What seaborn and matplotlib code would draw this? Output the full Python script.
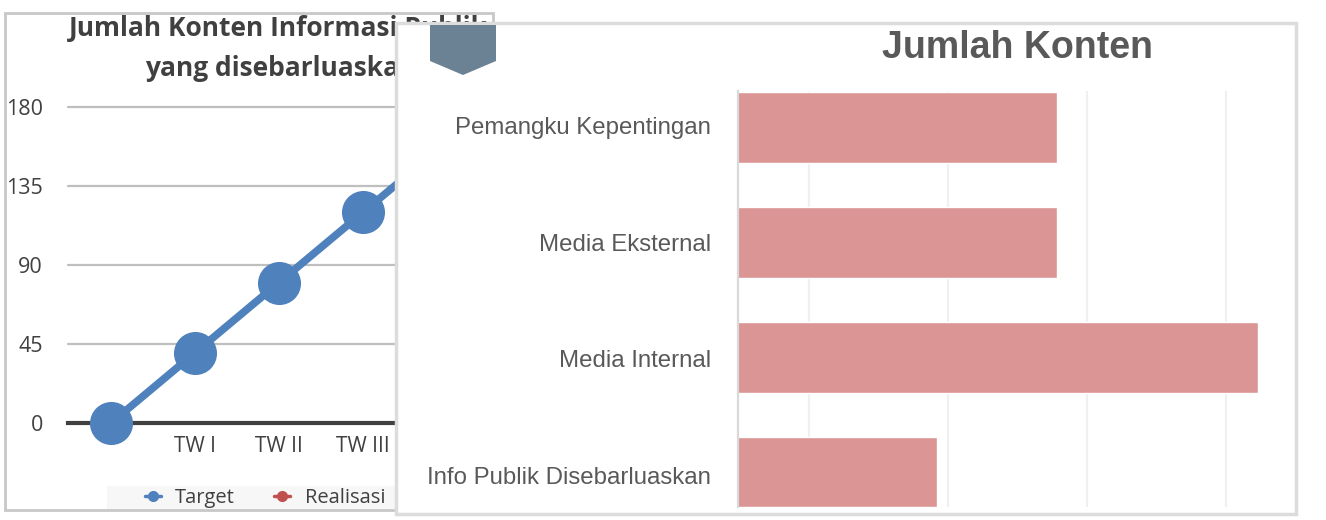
import pandas as pd
import matplotlib
matplotlib.use("Agg")
import matplotlib.pyplot as plt
from matplotlib.lines import Line2D
from matplotlib.patches import Polygon, Rectangle
import seaborn as sns

W, H = 1326, 520

# left chart
periods = ["", "TW I", "TW II", "TW III", "TW IV"]
target = [0, 40, 80, 120, 160]
y_ticks = [0, 45, 90, 135, 180]

# right chart
channels = ["Pemangku Kepentingan", "Media Eksternal", "Media Internal", "Info Publik Disebarluaskan"]
konten = [139.4, 139.4, 211.4, 96]
x_ticks = [50, 100, 150, 200]

BLUE = "#4f81bd"
RED = "#c0504d"
BAR = "#da9594"
GREY = "#595959"
DARK = "#404040"


def px_axes(fig, x0, y0, x1, y1, zorder):
    rect = [x0 / W, 1 - y1 / H, (x1 - x0) / W, (y1 - y0) / H]
    ax = fig.add_axes(rect, zorder=zorder)
    return ax


sns.set_theme(style="white")
fig = plt.figure(figsize=(W / 100, H / 100), dpi=100, facecolor="white")

# frame of the left panel
back = px_axes(fig, 0, 0, W, H, 0)
back.set_xlim(0, W)
back.set_ylim(H, 0)
back.axis("off")
back.add_patch(Rectangle((5, 13), 488, 497, fc="white", ec="#c8c8c8", lw=2))
back.add_patch(Rectangle((107, 486), 288, 23, fc="#f7f7f7", ec="none"))
back.text(278, 29, "Jumlah Konten Informasi Publik", family="Open Sans", weight="bold",
          fontsize=19, color=DARK, ha="center", va="center")
back.text(281, 68, "yang disebarluaskan", family="Open Sans", weight="bold",
          fontsize=19, color=DARK, ha="center", va="center")

# line chart
ax = px_axes(fig, 68, 107, 490, 423, 1)
ax.patch.set_alpha(0)
df_line = pd.DataFrame({"periode": periods, "target": target})
sns.lineplot(data=df_line, x="periode", y="target", ax=ax, sort=False, color=BLUE, linewidth=5.5,
             marker="o", markersize=31, markeredgewidth=0, clip_on=False, zorder=5)
ax.set_xlim(-43 / 84, (490 - 111) / 84)
ax.set_ylim(0, 180)
ax.set_yticks(y_ticks)
ax.set_xlabel("")
ax.set_ylabel("")
ax.grid(axis="y", color="#bfbfbf", lw=1.6)
for line in ax.get_ygridlines():
    line.set_clip_on(False)
ax.tick_params(axis="y", length=0, pad=18, labelsize=15.5, labelcolor=DARK)
ax.tick_params(axis="x", length=0, pad=9.5, labelsize=15, labelcolor=DARK)
for label in ax.get_xticklabels() + ax.get_yticklabels():
    label.set_family("Open Sans")
for side in ["top", "right", "left"]:
    ax.spines[side].set_visible(False)
ax.spines["bottom"].set_color(DARK)
ax.spines["bottom"].set_linewidth(3)

handles = [
    Line2D([], [], color=BLUE, lw=2.5, marker="o", markersize=7, label="Target"),
    Line2D([], [], color=RED, lw=2.5, marker="o", markersize=7, label="Realisasi"),
]
leg = ax.legend(handles=handles, ncol=2, loc="center left", bbox_to_anchor=(145 / W, 1 - 498 / H),
                bbox_transform=fig.transFigure, frameon=False, handlelength=0.8, handletextpad=0.7,
                borderpad=0, columnspacing=1.95, borderaxespad=0,
                prop={"family": "Open Sans", "size": 14.5})
for t in leg.get_texts():
    t.set_color(DARK)

# panel on top of it
panel = px_axes(fig, 0, 0, W, H, 2)
panel.set_xlim(0, W)
panel.set_ylim(H, 0)
panel.axis("off")
panel.patch.set_alpha(0)
panel.add_patch(Rectangle((396, 23), 900, 491, fc="white", ec="#dcdcdc", lw=2.5))
panel.add_patch(Polygon([(430, 25), (496, 25), (496, 61), (463, 75), (430, 61)], fc="#6b8294", ec="none"))
panel.text(1017, 48, "Jumlah Konten", family="Liberation Sans", weight="bold",
           fontsize=27, color=GREY, ha="center", va="center")

# bar chart
bx = px_axes(fig, 738, 91, 1293, 507, 3)
bx.patch.set_alpha(0)
df_bar = pd.DataFrame({"channel": channels, "konten": konten})
sns.barplot(data=df_bar, y="channel", x="konten", ax=bx, orient="h", color=BAR, saturation=1, width=0.615)
bx.set_xlim(24.5, 24.5 + (1293 - 738) / 2.78)
bx.set_ylim(3.305, -0.32)
bx.set_xticks(x_ticks)
bx.set_xticklabels([])
bx.set_xlabel("")
bx.set_ylabel("")
bx.set_axisbelow(True)
bx.grid(axis="x", color="#f0f0f0", lw=1.6)
# the labels sit a little off the bar centres in the picture
bx.set_yticks([-0.02, 1.0, 2.01, 3.03], labels=channels)
bx.tick_params(axis="y", length=0, pad=19.5, labelsize=17.3, labelcolor=GREY)
bx.tick_params(axis="x", length=0)
for label in bx.get_yticklabels():
    label.set_family("Liberation Sans")
for side in ["top", "right", "bottom"]:
    bx.spines[side].set_visible(False)
bx.spines["left"].set_color("#d9d9d9")
bx.spines["left"].set_linewidth(1.6)

fig.savefig("out.png", dpi=100)
